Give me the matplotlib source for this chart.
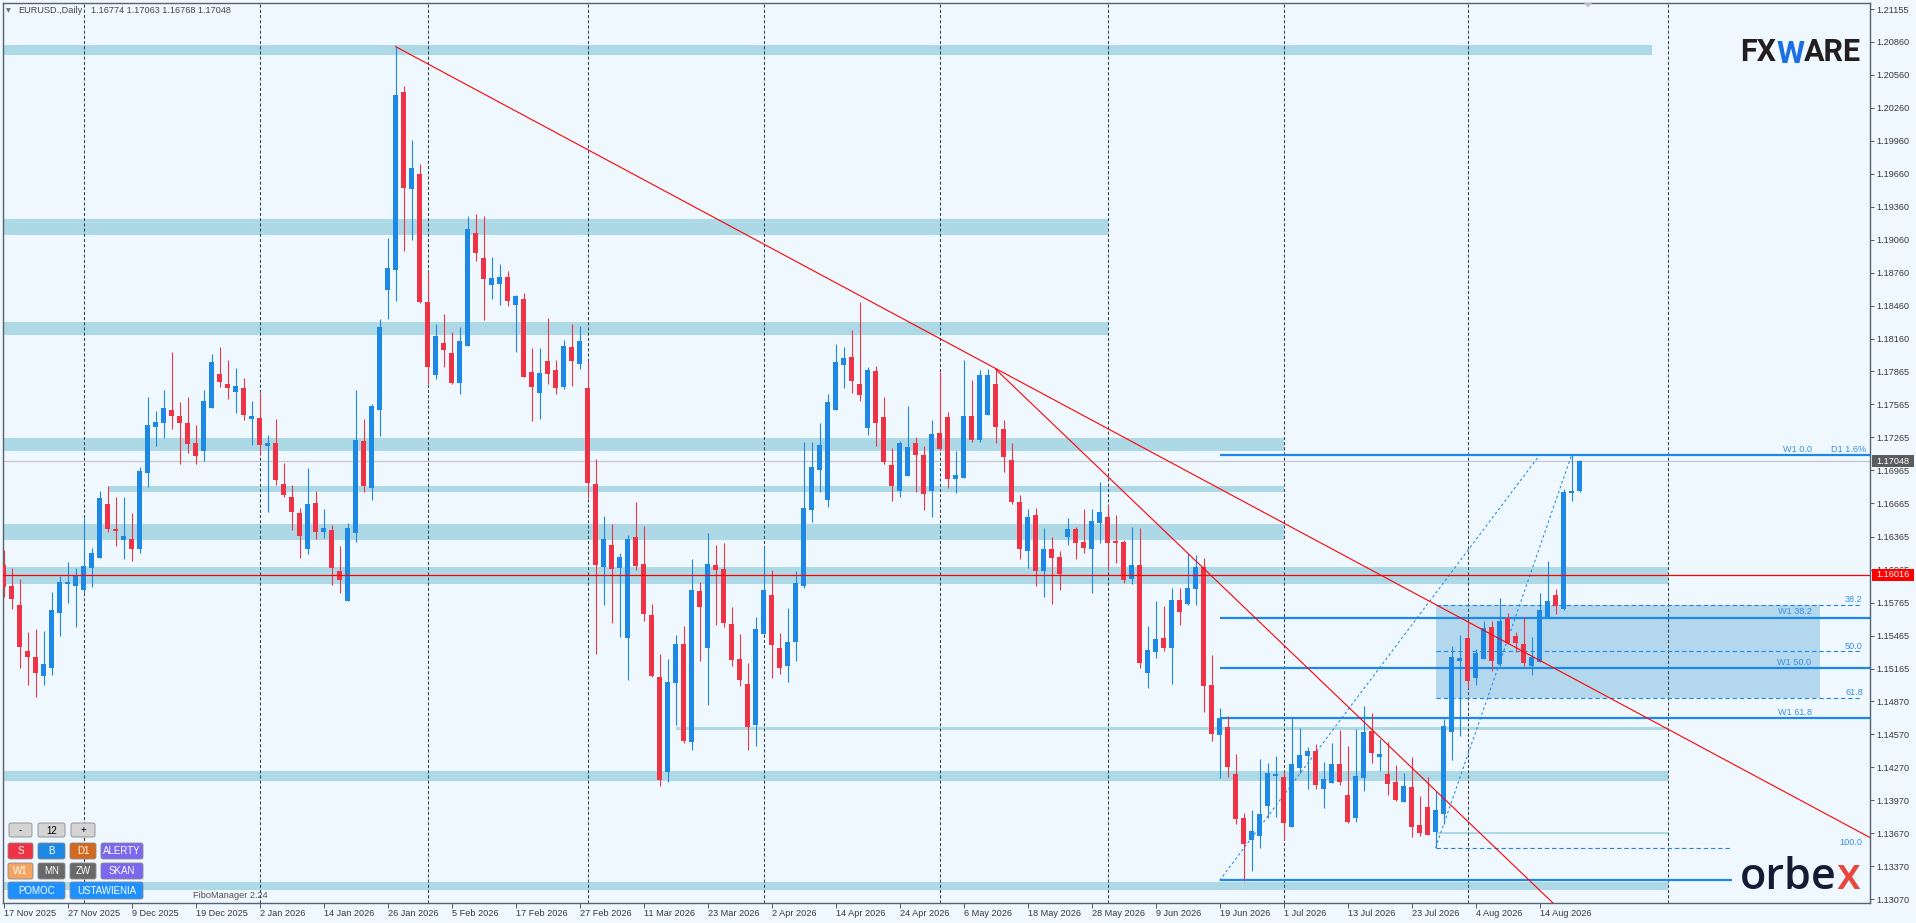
import numpy as np
import matplotlib
matplotlib.use('Agg')
import matplotlib.pyplot as plt
from matplotlib.patches import Rectangle, Polygon, FancyBboxPatch

plt.rcParams['font.family'] = ['Liberation Sans', 'DejaVu Sans']

# ---------------- data ----------------
opens = [1.16106,1.15915,1.15743,1.15325,1.15270,1.15101,1.15174,1.15673,1.15936,1.15918,
1.15882,1.16082,1.16172,1.16660,1.16433,1.16333,1.16342,1.16254,1.16944,1.17362,
1.17398,1.17513,1.17459,1.17395,1.17214,1.17144,1.17535,1.17840,1.17749,1.17680,
1.17713,1.17435,1.17441,1.17185,1.17213,1.16840,1.16724,1.16577,1.16256,1.16670,
1.16410,1.16424,1.16051,1.15781,1.16400,1.17233,1.16810,1.17517,1.18607,1.18788,
1.20400,1.19522,1.19656,1.18494,1.17835,1.18122,1.18033,1.17763,1.18098,1.19123,
1.18894,1.18651,1.18661,1.18723,1.18470,1.18521,1.17858,1.17671,1.17958,1.17876,
1.17725,1.18087,1.17930,1.17715,1.16842,1.16091,1.16288,1.16082,1.15446,1.16360,
1.16115,1.15652,1.15089,1.14229,1.15038,1.15389,1.14502,1.15870,1.15355,1.16106,
1.16070,1.15570,1.15252,1.15025,1.14656,1.15480,1.15834,1.15352,1.15192,1.15410,
1.15915,1.16605,1.16968,1.16696,1.17513,1.17922,1.17995,1.17749,1.17350,1.17867,
1.17450,1.17014,1.16778,1.16917,1.17214,1.17105,1.16778,1.17304,1.17450,1.16890,
1.16899,1.17459,1.17244,1.17471,1.17749,1.17341,1.17059,1.16678,1.16236,1.16560,
1.16054,1.16251,1.16181,1.16363,1.16433,1.16315,1.16254,1.16490,1.16542,1.16324,
1.16315,1.15982,1.16106,1.15128,1.15319,1.15443,1.15355,1.15788,1.15755,1.15891,
1.16088,1.15016,1.14565,1.14635,1.14208,1.13808,1.13612,1.13648,1.13920,1.14193,
1.14181,1.13730,1.14259,1.14374,1.14417,1.14075,1.14129,1.14299,1.14017,1.13811,
1.14175,1.14598,1.14365,1.14208,1.14135,1.13957,1.14090,1.13745,1.13908,1.13684,
1.13848,1.14589,1.15237,1.15443,1.15083,1.15252,1.15543,1.15210,1.15625,1.15461,
1.15389,1.15189,1.15228,1.15634,1.15833,1.15706,1.16760,1.16774]

highs = [1.16242,1.16079,1.15979,1.15497,1.15525,1.15506,1.15861,1.16009,1.16133,1.16079,
1.16533,1.16260,1.16778,1.16823,1.16723,1.16723,1.16578,1.16996,1.17631,1.17504,
1.17695,1.18040,1.17586,1.17631,1.17377,1.17695,1.18022,1.18085,1.17967,1.17895,
1.17804,1.17595,1.17668,1.17288,1.17431,1.17035,1.16834,1.16625,1.16987,1.16779,
1.16615,1.16468,1.16283,1.16488,1.17694,1.17431,1.17568,1.18340,1.19075,1.20814,
1.20455,1.19966,1.19748,1.18760,1.18296,1.18385,1.18224,1.18268,1.19276,1.19293,
1.19276,1.18904,1.18839,1.18777,1.18555,1.18576,1.18077,1.18077,1.18350,1.17968,
1.18149,1.18296,1.18275,1.17958,1.17069,1.16551,1.16478,1.16215,1.16379,1.16678,
1.16460,1.15752,1.15298,1.15252,1.15470,1.15552,1.16161,1.15952,1.16397,1.16288,
1.16306,1.15725,1.15480,1.15216,1.15634,1.16270,1.16061,1.15489,1.15716,1.16052,
1.17223,1.17226,1.17395,1.17659,1.18113,1.18085,1.18240,1.18494,1.17904,1.17913,
1.17631,1.17168,1.17232,1.17550,1.17268,1.17186,1.17423,1.17858,1.17495,1.17141,
1.17967,1.17786,1.17877,1.17886,1.17877,1.17423,1.17214,1.16741,1.16614,1.16623,
1.16442,1.16360,1.16233,1.16533,1.16451,1.16614,1.16614,1.16859,1.16651,1.16560,
1.16333,1.16451,1.16442,1.15552,1.15779,1.15734,1.15897,1.15897,1.16215,1.16197,
1.16169,1.15289,1.14807,1.14735,1.14390,1.13854,1.13881,1.14344,1.14308,1.14371,
1.14235,1.14720,1.14623,1.14453,1.14480,1.14317,1.14490,1.14608,1.14462,1.14617,
1.14826,1.14762,1.14526,1.14499,1.14290,1.14217,1.14362,1.14008,1.14184,1.14057,
1.14707,1.15370,1.15470,1.15597,1.15343,1.15597,1.15597,1.15806,1.15670,1.15497,
1.15634,1.15452,1.15852,1.16142,1.15888,1.16796,1.17105,1.17063]

lows = [1.15818,1.15709,1.15174,1.15019,1.14910,1.15019,1.15110,1.15464,1.15764,1.15546,
1.15849,1.15909,1.16172,1.16409,1.16281,1.16163,1.16145,1.16218,1.16817,1.17189,
1.17262,1.17344,1.17026,1.17126,1.17026,1.17053,1.17535,1.17725,1.17616,1.17489,
1.17426,1.17199,1.17111,1.16591,1.16837,1.16728,1.16427,1.16174,1.16208,1.16338,
1.16355,1.15928,1.15850,1.15781,1.16318,1.16769,1.16700,1.17281,1.18344,1.18508,
1.18962,1.19061,1.18487,1.17753,1.17797,1.17906,1.17746,1.17657,1.18098,1.18870,
1.18327,1.18525,1.18470,1.18460,1.18043,1.17817,1.17418,1.17428,1.17746,1.17657,
1.17708,1.17732,1.17889,1.16711,1.15301,1.15746,1.15582,1.15455,1.15065,1.16064,
1.15601,1.15092,1.14102,1.14139,1.14656,1.14493,1.14429,1.15237,1.14838,1.15564,
1.15546,1.15192,1.15010,1.14429,1.14465,1.15480,1.15083,1.15119,1.15047,1.15237,
1.15900,1.16499,1.16769,1.16632,1.17513,1.17713,1.17671,1.17598,1.17286,1.17189,
1.17026,1.16690,1.16723,1.16917,1.16772,1.16608,1.16545,1.17150,1.16808,1.16763,
1.16899,1.17226,1.17226,1.17471,1.17217,1.16953,1.16663,1.16163,1.16082,1.15918,
1.15818,1.15755,1.15882,1.16290,1.16163,1.16218,1.15855,1.16309,1.16063,1.16127,
1.15945,1.15933,1.15174,1.14992,1.15264,1.15328,1.15028,1.15564,1.15746,1.15746,
1.14774,1.14511,1.14175,1.14184,1.13757,1.13239,1.13330,1.13539,1.13811,1.13820,
1.13612,1.13730,1.14214,1.14075,1.14075,1.13902,1.14129,1.14111,1.13763,1.13775,
1.14057,1.14311,1.14238,1.14020,1.13963,1.13957,1.13639,1.13648,1.13657,1.13539,
1.13757,1.14338,1.14556,1.14992,1.15019,1.15252,1.15146,1.15189,1.15389,1.15316,
1.15189,1.15110,1.15228,1.15634,1.15661,1.15697,1.16687,1.16768]

closes = [1.15909,1.15800,1.15364,1.15273,1.15128,1.15207,1.15697,1.15951,1.15951,1.16009,
1.16097,1.16215,1.16714,1.16436,1.16418,1.16369,1.16254,1.16959,1.17377,1.17404,
1.17532,1.17462,1.17398,1.17208,1.17099,1.17595,1.17949,1.17768,1.17716,1.17731,
1.17471,1.17459,1.17199,1.17213,1.16881,1.16745,1.16591,1.16372,1.16659,1.16410,
1.16444,1.16082,1.15973,1.16444,1.17240,1.16827,1.17551,1.18268,1.18801,1.20373,
1.19533,1.19710,1.18497,1.17906,1.18186,1.18063,1.17763,1.18139,1.19157,1.18941,
1.18706,1.18713,1.18723,1.18508,1.18549,1.17817,1.17725,1.17848,1.17845,1.17718,
1.18094,1.17961,1.18139,1.16854,1.16106,1.16342,1.16073,1.16179,1.16342,1.16100,
1.15664,1.15101,1.14157,1.15044,1.15389,1.14511,1.15879,1.15728,1.16115,1.16064,
1.15582,1.15246,1.15065,1.14638,1.15525,1.15879,1.15383,1.15174,1.15407,1.15943,
1.16623,1.16996,1.17195,1.17586,1.17949,1.17986,1.17780,1.17650,1.17877,1.17398,
1.17041,1.16826,1.17214,1.17177,1.17105,1.16754,1.17295,1.17159,1.16890,1.16923,
1.17459,1.17244,1.17831,1.17831,1.17362,1.17090,1.16681,1.16254,1.16542,1.16054,
1.16251,1.16172,1.16027,1.16433,1.16309,1.16263,1.16505,1.16587,1.16309,1.16309,
1.15973,1.16106,1.15219,1.15334,1.15434,1.15355,1.15788,1.15682,1.15897,1.16088,
1.15010,1.14574,1.14717,1.14275,1.13802,1.13575,1.13690,1.13845,1.14217,1.14211,
1.13766,1.14299,1.14381,1.14417,1.14111,1.14160,1.14299,1.14138,1.13772,1.14190,
1.14589,1.14402,1.14390,1.14120,1.13972,1.14099,1.13730,1.13675,1.13657,1.13881,
1.14644,1.15270,1.15261,1.15056,1.15307,1.15534,1.15234,1.15597,1.15398,1.15398,
1.15216,1.15270,1.15697,1.15779,1.15734,1.16769,1.16778,1.17048]

date_labels = ['17 Nov 2025', '27 Nov 2025', '9 Dec 2025', '19 Dec 2025', '2 Jan 2026',
               '14 Jan 2026', '26 Jan 2026', '5 Feb 2026', '17 Feb 2026', '27 Feb 2026',
               '11 Mar 2026', '23 Mar 2026', '2 Apr 2026', '14 Apr 2026', '24 Apr 2026',
               '6 May 2026', '18 May 2026', '28 May 2026', '9 Jun 2026', '19 Jun 2026',
               '1 Jul 2026', '13 Jul 2026', '23 Jul 2026', '4 Aug 2026', '14 Aug 2026']
bars_per_label = 8

price_ticks = [1.21155, 1.20860, 1.20560, 1.20260, 1.19960, 1.19660, 1.19360, 1.19060,
               1.18760, 1.18460, 1.18160, 1.17865, 1.17565, 1.17265, 1.16965, 1.16665,
               1.16365, 1.16065, 1.15765, 1.15465, 1.15165, 1.14870, 1.14570, 1.14270,
               1.13970, 1.13670, 1.13370, 1.13070]

separator_bars = [10, 32, 53, 73, 95, 117, 138, 160, 183, 208]

# support / resistance zones (start bar, end bar, low, high); start -5 = from left edge
band_start = [-5, -5, -5, -5, 13, -5, -5, 84, -5, 179, -5]
band_end   = [206, 138, 138, 160, 160, 160, 208, 208, 208, 208, 208]
band_low   = [1.20737, 1.19099, 1.18197, 1.17138, 1.16769, 1.16333, 1.15938, 1.14608, 1.14147, 1.13660, 1.13154]
band_high  = [1.20828, 1.19249, 1.18313, 1.17261, 1.16823, 1.16478, 1.16088, 1.14635, 1.14235, 1.13681, 1.13227]

last_bid = 1.17048
red_level = 1.16016
trend1 = [(49, 1.20814), (124, 1.17891)]
trend2 = [(124, 1.17885), (160, 1.15380)]

w1_high, w1_low, w1_from, w1_peak_bar = 1.17105, 1.13242, 152, 192
d1_high, d1_low, d1_from, d1_peak_bar = 1.17105, 1.13539, 179, 196
fib_levels = [0.0, 38.2, 50.0, 61.8, 100.0]

header = ['EURUSD.,Daily', '1.16774 1.17063 1.16768 1.17048']

# ---------------- style ----------------
W, H, DPI = 1916, 923, 100
BG = '#f0f8ff'
BULL, BEAR = '#1e88e5', '#ef3347'
BAND = '#add8e6'
FIBC = '#1e88ea'
FIBT = '#3a8ee6'
TXT = '#383838'

fig = plt.figure(figsize=(W / DPI, H / DPI), dpi=DPI)
fig.patch.set_facecolor(BG)
FL, FR, FT, FB = 2.7, 1870.0, 3.0, 903.0
ax = fig.add_axes([FL / W, 1 - FB / H, (FR - FL) / W, (FB - FT) / H])
ax.set_facecolor(BG)
X0, X1 = -0.1125, 233.3
Y0, Y1 = 1.13037, 1.21210
ax.set_xlim(X0, X1)
ax.set_ylim(Y0, Y1)

for x0, x1, lo, hi in zip(band_start, band_end, band_low, band_high):
    ax.add_patch(Rectangle((x0, lo), x1 - x0, hi - lo, facecolor=BAND, edgecolor='none', zorder=1))

for b in separator_bars:
    ax.axvline(b, color='#34444f', lw=0.75, ls=(0, (3, 2)), zorder=1.6)

ax.axhline(last_bid, color='#c4c8cc', lw=0.9, zorder=1.7)


def lvl(hi, lo, p):
    return hi - (hi - lo) * p / 100.0


# FiboManager D1 zone
d38, d61 = lvl(d1_high, d1_low, 38.2), lvl(d1_high, d1_low, 61.8)
ax.add_patch(Rectangle((d1_from, d61), 227 - d1_from, d38 - d61, facecolor='#b3d8ee',
                       edgecolor='none', zorder=1.5))
for p in [38.2, 50.0, 61.8, 100.0]:
    v = lvl(d1_high, d1_low, p)
    xe = 216 if p == 100.0 else 232.3
    ax.plot([d1_from, xe], [v, v], color=FIBC, lw=0.8, ls=(0, (4, 2.5)), zorder=2.5)
    ax.annotate(f'{p:.1f}', (232.4, v), xytext=(0, 0.6), textcoords='offset points',
                ha='right', va='bottom', fontsize=6.6, color=FIBT, zorder=5)
ax.plot([d1_from, d1_peak_bar], [d1_low, d1_high], color=FIBC, lw=0.75, ls=(0, (2.5, 2.5)), zorder=2.5)

# W1 levels
for p in fib_levels:
    v = lvl(w1_high, w1_low, p)
    xe = 216 if p == 100.0 else X1 + 5
    ax.plot([w1_from, xe], [v, v], color=FIBC, lw=1.6, solid_capstyle='butt', zorder=2.6)
    if p < 100:
        ax.annotate(f'W1 {p:.1f}', (226, v), xytext=(0, 0.8), textcoords='offset points',
                    ha='right', va='bottom', fontsize=6.6, color=FIBT, zorder=5)
ax.annotate('D1 1.6%', (232.8, w1_high), xytext=(0, 0.8), textcoords='offset points',
            ha='right', va='bottom', fontsize=6.6, color=FIBT, zorder=5)
ax.plot([w1_from, w1_peak_bar], [w1_low, w1_high], color=FIBC, lw=0.75, ls=(0, (2.5, 2.5)), zorder=2.5)

# candles
o, h, l, c = map(np.array, (opens, highs, lows, closes))
idx = np.arange(len(o))
col = np.where(c >= o, BULL, BEAR)
ax.vlines(idx, l, h, colors=col, lw=0.8, zorder=3)
body_bot = np.minimum(o, c)
body_h = np.maximum(np.abs(c - o), 0.00011)
ax.bar(idx, body_h, width=0.625, bottom=body_bot, color=col, linewidth=0, zorder=3.1)

# red horizontal level & trend lines
ax.axhline(red_level, color='#ff0000', lw=0.9, zorder=4)


def ray(p1, p2, xe):
    s = (p2[1] - p1[1]) / (p2[0] - p1[0])
    return [p1[0], xe], [p1[1], p1[1] + s * (xe - p1[0])]


for tl in (trend1, trend2):
    xs, ys = ray(tl[0], tl[1], 260)
    ax.plot(xs, ys, color='#ff0000', lw=0.8, zorder=4)

# axes styling
ax.set_xticks(np.arange(0, len(date_labels) * bars_per_label, bars_per_label))
ax.set_xticklabels(date_labels, ha='left')
ax.yaxis.tick_right()
ax.set_yticks(price_ticks)
ax.set_yticklabels([f'{v:.5f}' for v in price_ticks])
ax.tick_params(axis='both', direction='out', width=0.7, color='#505a64', labelsize=6.6,
               labelcolor=TXT)
ax.tick_params(axis='x', length=3.5, pad=0.8)
ax.tick_params(axis='y', length=3, pad=1.6)
for s in ax.spines.values():
    s.set_color('#56626c')
    s.set_linewidth(1.0)

# ---------------- overlay (pixel coordinates) ----------------
ov = fig.add_axes([0, 0, 1, 1])
ov.set_xlim(0, W)
ov.set_ylim(H, 0)
ov.axis('off')
ov.set_zorder(10)
r = fig.canvas.get_renderer()


def ypix(price):
    return H - ax.transData.transform((0, price))[1]


# price tags on axis
for price, fc in ((last_bid, '#5c5c5c'), (red_level, '#ff0000')):
    yp = ypix(price)
    ov.add_patch(Rectangle((1872, yp - 6), 42, 12, facecolor=fc, edgecolor='none', zorder=5))
    ov.text(1876, yp, f'{price:.5f}', color='white', fontsize=6.6, va='center', ha='left', zorder=6)

# header
ov.text(8, 10.8, '\u25bc', family=['DejaVu Sans'], fontsize=4.5, color='#6a6a6a', ha='center', va='center')
ov.text(18, 10.8, header[0], fontsize=6.6, color='#444444', va='center', ha='left')
ov.text(91, 10.8, header[1], fontsize=6.6, color='#444444', va='center', ha='left')

# small shift marker
ov.add_patch(Polygon([[1584, 3], [1592, 3], [1588, 7.5]], closed=True, facecolor='#c0c0c0',
                     edgecolor='none'))


def place(x, y, s, **kw):
    t = ov.text(x, y, s, ha='left', va='baseline', **kw)
    bb = t.get_window_extent(r)
    return t, ov.transData.inverted().transform((bb.x1, 0))[0]


def fit_size(s, target_w, base, **kw):
    t = ov.text(0, 0, s, fontsize=base, **kw)
    w = t.get_window_extent(r).width
    t.remove()
    return base * target_w / w


# FXWARE logo
fs = fit_size('FXWARE', 120, 21, family=['Roboto', 'DejaVu Sans'], fontweight='bold')
_, xn = place(1740, 61, 'FX', fontsize=fs, family=['Roboto', 'DejaVu Sans'], fontweight='bold', color='#231f20')
_, xn = place(xn, 63, 'W', fontsize=fs * 1.05, family=['Roboto', 'DejaVu Sans'], fontweight='bold', color='#1a6fe6')
place(xn, 61, 'ARE', fontsize=fs, family=['Roboto', 'DejaVu Sans'], fontweight='bold', color='#231f20')

# orbex logo
fs2 = fit_size('orbex', 120, 32, family=['Open Sans', 'DejaVu Sans'], fontweight='semibold')
_, xn = place(1740, 889, 'orbe', fontsize=fs2, family=['Open Sans', 'DejaVu Sans'],
              fontweight='semibold', color='#121c33')
place(xn, 889, 'x', fontsize=fs2, family=['Open Sans', 'DejaVu Sans'], fontweight='semibold', color='#e8473d')

# FiboManager buttons
buttons = [
    ('-', 9, 823, 23, 14, '#d4d4d4', 'black'), ('12', 38, 823, 27, 14, '#d4d4d4', 'black'),
    ('+', 71, 823, 24, 14, '#d4d4d4', 'black'),
    ('S', 8, 843, 25, 16, '#ee3344', 'white'), ('B', 38, 843, 27, 16, '#1e88e5', 'white'),
    ('D1', 70, 843, 26, 16, '#d2691e', 'white'), ('ALERTY', 101, 843, 42, 16, '#7b68ee', 'white'),
    ('W1', 8, 863, 25, 16, '#f4a460', 'white'), ('MN', 38, 863, 27, 16, '#696969', 'white'),
    ('ZW', 70, 863, 26, 16, '#696969', 'white'), ('SKAN', 101, 863, 42, 16, '#7b68ee', 'white'),
    ('POMOC', 8, 882, 57, 17, '#1e90ff', 'white'), ('USTAWIENIA', 70, 882, 73, 17, '#1e90ff', 'white'),
]
for lab, bx, by, bw, bh, fc, tc in buttons:
    ov.add_patch(FancyBboxPatch((bx + 1, by + 1), bw - 2, bh - 2, boxstyle='round,pad=1,rounding_size=2',
                                facecolor=fc, edgecolor='#8a8a8a', lw=0.6, zorder=5))
    ov.text(bx + bw / 2, by + bh / 2 + 0.5, lab, color=tc, fontsize=7, ha='center', va='center', zorder=6)
ov.text(193, 895, 'FiboManager 2.24', fontsize=6.6, color='#505050', ha='left', va='center')

fig.savefig('out.png', dpi=DPI, facecolor=BG)
